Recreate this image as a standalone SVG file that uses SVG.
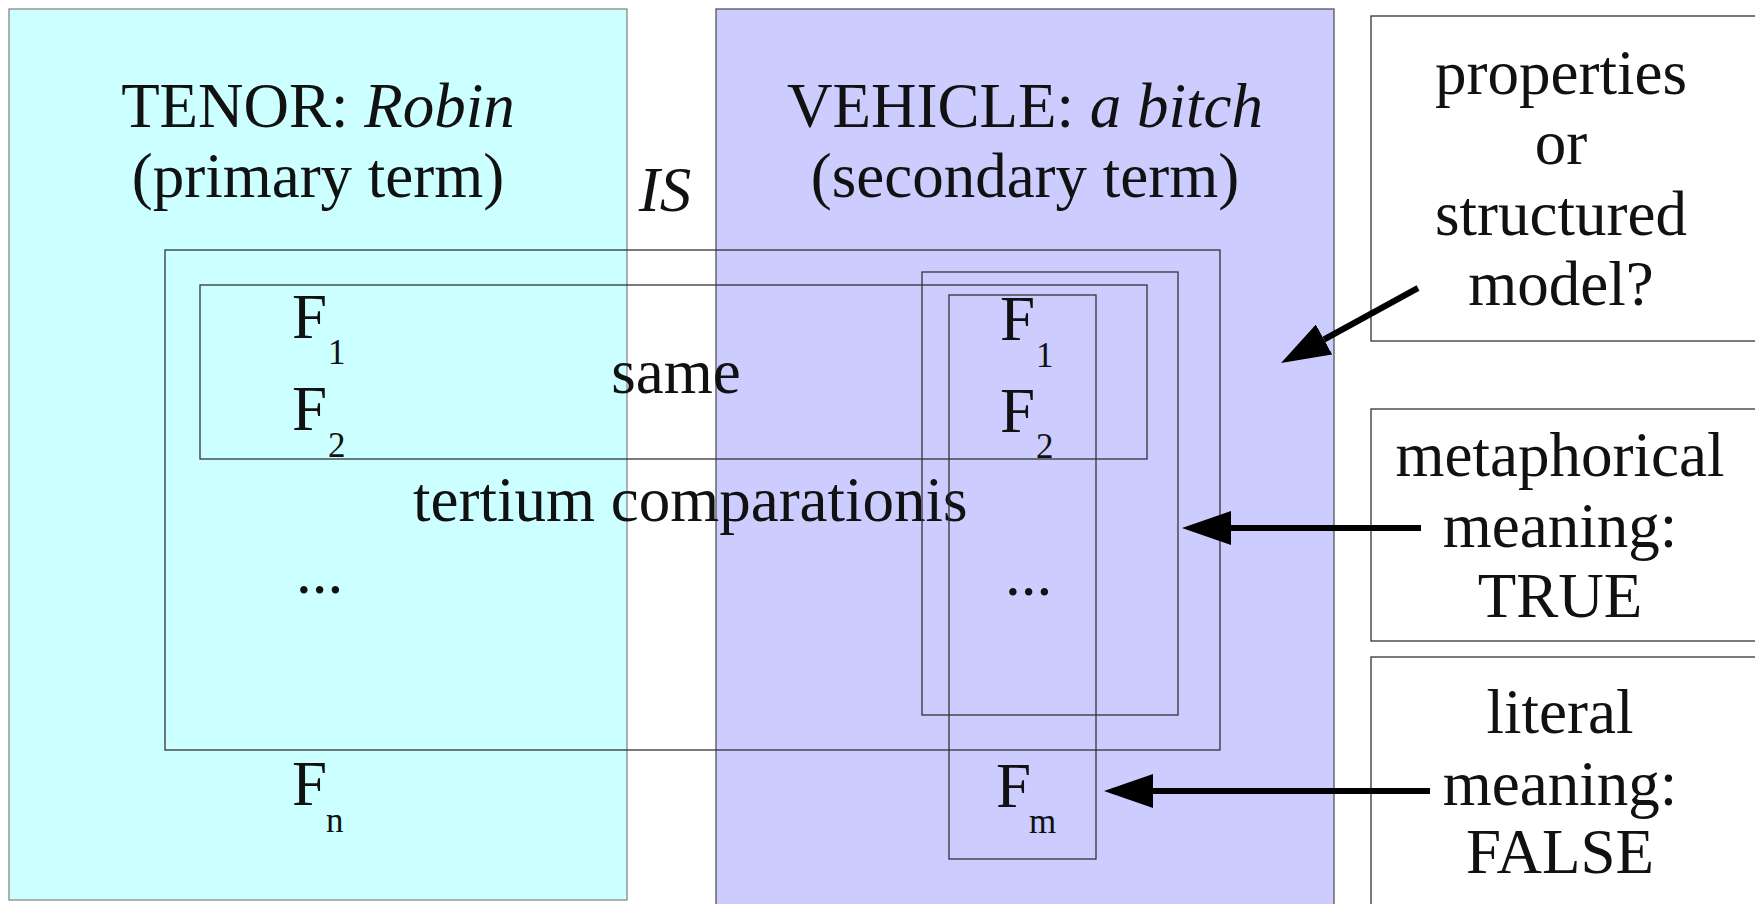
<svg xmlns="http://www.w3.org/2000/svg" width="1755" height="904" viewBox="0 0 1755 904">
<style>
text{font-family:"Liberation Serif","Times New Roman",serif;fill:#111;font-size:63px}
.it{font-style:italic}
.mid{text-anchor:middle}
.sub{font-size:35px}
.frame{fill:none;stroke:#333;stroke-width:1.3}
.box{fill:#fff;stroke:#333;stroke-width:1.3}
.arrow{stroke:#000;stroke-width:6;fill:none;marker-end:url(#head)}
</style>
<defs>
<marker id="head" markerUnits="userSpaceOnUse" markerWidth="49" markerHeight="34" viewBox="0 0 49 34" refX="0" refY="17" orient="auto">
<path d="M0,0 L49,17 L0,34 z" fill="#000"/>
</marker>
</defs>
<rect width="1755" height="904" fill="#fff"/>

<g id="tenor">
<rect x="9" y="9" width="618" height="891" fill="#ccffff" stroke="#888" stroke-width="1.3"/>
<text class="mid" x="318" y="127">TENOR: <tspan class="it">Robin</tspan></text>
<text class="mid" x="318" y="197">(primary term)</text>
</g>

<g id="vehicle">
<rect x="716" y="9" width="618" height="910" fill="#ccccff" stroke="#555" stroke-width="1.3"/>
<text class="mid" x="1025" y="127">VEHICLE: <tspan class="it">a bitch</tspan></text>
<text class="mid" x="1025" y="197">(secondary term)</text>
</g>

<g id="is">
<text class="it mid" x="665" y="211">IS</text>
</g>

<g id="tertium">
<rect class="frame" x="165" y="250" width="1055" height="500"/>
<text x="413" y="521">tertium comparationis</text>
</g>

<g id="same">
<rect class="frame" x="200" y="285" width="947" height="174"/>
<text class="mid" x="676" y="393">same</text>
</g>

<g id="metaphorical-set">
<rect class="frame" x="922" y="272" width="256" height="443"/>
</g>

<g id="literal-set">
<rect class="frame" x="949" y="295" width="147" height="564"/>
</g>

<g id="tenor-features">
<text x="292" y="338">F<tspan class="sub" x="328" y="364">1</tspan></text>
<text x="292" y="430">F<tspan class="sub" x="328" y="457">2</tspan></text>
<text x="296" y="593">...</text>
<text x="292" y="805">F<tspan class="sub" x="326" y="832">n</tspan></text>
</g>

<g id="vehicle-features">
<text x="1000" y="340">F<tspan class="sub" x="1036" y="367">1</tspan></text>
<text x="1000" y="432">F<tspan class="sub" x="1036" y="458">2</tspan></text>
<text x="1005" y="595">...</text>
<text x="996" y="807">F<tspan class="sub" x="1029" y="833">m</tspan></text>
</g>

<g id="properties">
<rect class="box" x="1371" y="16" width="400" height="325"/>
<text class="mid" x="1561" y="94">properties</text>
<text class="mid" x="1561" y="164">or</text>
<text class="mid" x="1561" y="235">structured</text>
<text class="mid" x="1561" y="305">model?</text>
</g>

<g id="metaphorical">
<rect class="box" x="1371" y="409" width="400" height="232"/>
<text class="mid" x="1560" y="476">metaphorical</text>
<text class="mid" x="1560" y="547">meaning:</text>
<text class="mid" x="1560" y="617">TRUE</text>
</g>

<g id="literal">
<rect class="box" x="1371" y="657" width="400" height="260"/>
<text class="mid" x="1560" y="733">literal</text>
<text class="mid" x="1560" y="805">meaning:</text>
<text class="mid" x="1560" y="873">FALSE</text>
</g>

<g id="connectors">
<path class="arrow" d="M1418,288 L1324,339.5"/>
<path class="arrow" d="M1421,528 L1231,528"/>
<path class="arrow" d="M1430,791 L1153,791"/>
</g>
</svg>
